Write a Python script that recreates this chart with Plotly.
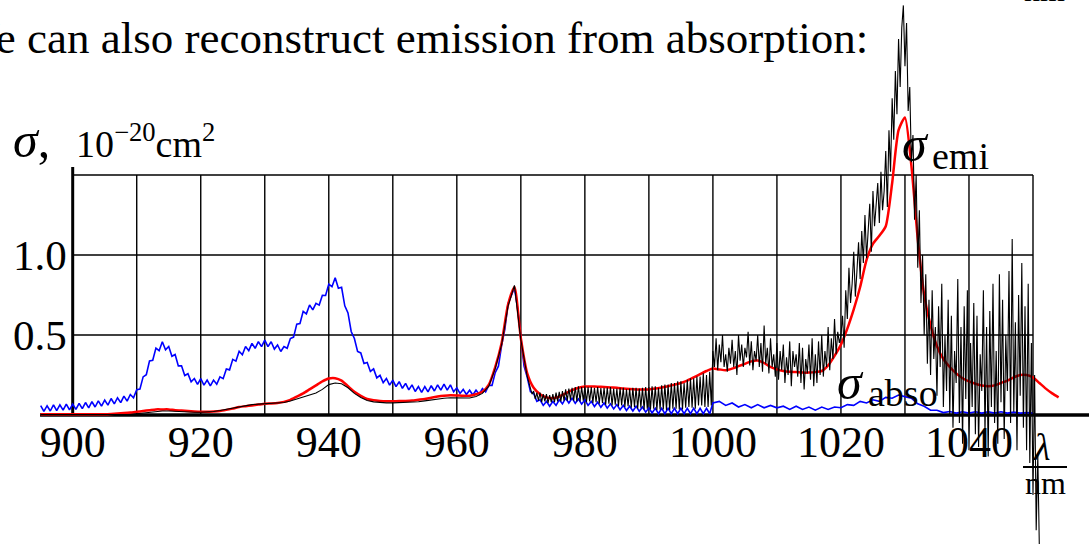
import numpy as np
import plotly.graph_objects as go

# ---------------- data ----------------
# absorption cross-section (blue), part A: 895.0 .. 1000.0 nm, step 0.5 nm
ABS_A_START, ABS_A_STEP = 895.0, 0.5
sigma_abs_a = [
    0.058, 0.022, 0.058, 0.025, 0.063, 0.027, 0.063, 0.030, 0.068, 0.032,
    0.068, 0.035, 0.073, 0.040, 0.078, 0.045, 0.083, 0.050, 0.088, 0.055,
    0.093, 0.062, 0.103, 0.070, 0.108, 0.077, 0.118, 0.087, 0.128, 0.107,
    0.158, 0.162, 0.238, 0.252, 0.338, 0.342, 0.418, 0.402, 0.458, 0.407,
    0.428, 0.367, 0.378, 0.307, 0.308, 0.247, 0.258, 0.207, 0.228, 0.192,
    0.228, 0.187, 0.218, 0.182, 0.218, 0.192, 0.238, 0.227, 0.288, 0.282,
    0.348, 0.337, 0.398, 0.377, 0.428, 0.402, 0.448, 0.417, 0.458, 0.427,
    0.468, 0.427, 0.458, 0.412, 0.438, 0.397, 0.428, 0.417, 0.478, 0.487,
    0.568, 0.572, 0.648, 0.632, 0.688, 0.657, 0.698, 0.687, 0.748, 0.747,
    0.818, 0.802, 0.858, 0.792, 0.798, 0.682, 0.638, 0.522, 0.478, 0.397,
    0.388, 0.322, 0.328, 0.272, 0.288, 0.232, 0.248, 0.202, 0.228, 0.187,
    0.218, 0.177, 0.208, 0.167, 0.198, 0.157, 0.188, 0.147, 0.178, 0.142,
    0.178, 0.145, 0.183, 0.150, 0.188, 0.155, 0.193, 0.155, 0.188, 0.145,
    0.170, 0.135, 0.160, 0.128, 0.155, 0.125, 0.155, 0.130, 0.165, 0.145,
    0.185, 0.185, 0.265, 0.305, 0.435, 0.535, 0.695, 0.745, 0.795, 0.665,
    0.465, 0.305, 0.235, 0.145, 0.135, 0.085, 0.095, 0.060, 0.085, 0.055,
    0.085, 0.060, 0.095, 0.070, 0.105, 0.075, 0.105, 0.073, 0.100, 0.068,
    0.095, 0.060, 0.085, 0.053, 0.080, 0.048, 0.075, 0.043, 0.070, 0.038,
    0.065, 0.033, 0.060, 0.028, 0.055, 0.025, 0.055, 0.023, 0.050, 0.018,
    0.045, 0.013, 0.042, 0.008, 0.042, 0.008, 0.042, 0.008, 0.042, 0.008,
    0.042, 0.008, 0.042, 0.008, 0.042, 0.008, 0.042, 0.008, 0.042, 0.008,
    0.075,
]
# absorption part B: 1001 .. 1050 nm, step 1 nm
ABS_B_START, ABS_B_STEP = 1001.0, 1.0
sigma_abs_b = [
    0.085, 0.06, 0.075, 0.05, 0.065, 0.045, 0.065, 0.045, 0.06, 0.045,
    0.055, 0.035, 0.055, 0.035, 0.05, 0.03, 0.05, 0.035, 0.05, 0.045,
    0.065, 0.06, 0.085, 0.075, 0.095, 0.085, 0.11, 0.105, 0.125, 0.115,
    0.105, 0.07, 0.055, 0.03, 0.03, 0.015, 0.022, 0.012, 0.02, 0.012,
    0.02, 0.012, 0.02, 0.012, 0.02, 0.012, 0.018, 0.012, 0.015, 0.012,
]

# reconstructed emission (red): 895 .. 1054 nm, step 1 nm
EMI_START, EMI_STEP = 895.0, 1.0
sigma_emi_rec = [
    0.005, 0.005, 0.005, 0.005, 0.005, 0.005, 0.005, 0.005, 0.005, 0.005,
    0.005, 0.007, 0.01, 0.012, 0.015, 0.02, 0.025, 0.03, 0.035, 0.035,
    0.035, 0.03, 0.028, 0.025, 0.022, 0.02, 0.02, 0.022, 0.025, 0.032,
    0.04, 0.05, 0.055, 0.06, 0.065, 0.07, 0.072, 0.075, 0.082, 0.095,
    0.115, 0.135, 0.16, 0.185, 0.21, 0.228, 0.23, 0.215, 0.18, 0.145,
    0.12, 0.1, 0.092, 0.088, 0.086, 0.086, 0.087, 0.088, 0.09, 0.095,
    0.1, 0.108, 0.115, 0.12, 0.123, 0.122, 0.12, 0.12, 0.13, 0.145,
    0.19, 0.3, 0.45, 0.69, 0.8, 0.48, 0.26, 0.17, 0.13, 0.11,
    0.105, 0.115, 0.135, 0.155, 0.17, 0.178, 0.178, 0.177, 0.175, 0.172,
    0.17, 0.165, 0.162, 0.16, 0.16, 0.16, 0.165, 0.172, 0.18, 0.19,
    0.2, 0.215, 0.235, 0.255, 0.275, 0.29, 0.285, 0.28, 0.29, 0.305,
    0.32, 0.335, 0.34, 0.325, 0.3, 0.285, 0.275, 0.27, 0.268, 0.265,
    0.265, 0.268, 0.275, 0.31, 0.37, 0.44, 0.54, 0.66, 0.8, 0.97,
    1.07, 1.12, 1.18, 1.45, 1.78, 1.86, 1.56, 1.1, 0.75, 0.56,
    0.43, 0.35, 0.3, 0.26, 0.23, 0.21, 0.195, 0.185, 0.18, 0.185,
    0.2, 0.215, 0.235, 0.25, 0.25, 0.235, 0.2, 0.165, 0.135, 0.11,
]

# measured emission (black), four pieces
MEAS_A_START, MEAS_A_STEP = 895.0, 1.0
sigma_emi_meas_a = [
    0.003, 0.003, 0.003, 0.003, 0.003, 0.003, 0.003, 0.003, 0.003, 0.003,
    0.003, 0.003, 0.003, 0.003, 0.003, 0.008, 0.012, 0.018, 0.022, 0.025,
    0.025, 0.022, 0.02, 0.018, 0.017, 0.017, 0.018, 0.022, 0.028, 0.036,
    0.045, 0.053, 0.06, 0.065, 0.068, 0.07, 0.07, 0.072, 0.078, 0.088,
    0.1, 0.112, 0.125, 0.138, 0.16, 0.19, 0.2, 0.195, 0.17, 0.135,
    0.11, 0.09, 0.082, 0.078, 0.076, 0.076, 0.077, 0.078, 0.08, 0.083,
    0.088, 0.095, 0.1, 0.105, 0.108, 0.108, 0.106, 0.106, 0.115, 0.135,
    0.18, 0.29, 0.44, 0.68, 0.81, 0.47, 0.24,
]
MEAS_B_START, MEAS_B_STEP = 971.5, 0.25
sigma_emi_meas_b = [
    0.17, 0.13,
    0.15, 0.1, 0.14, 0.09, 0.14, 0.08, 0.13, 0.085,
    0.13, 0.075, 0.125, 0.08, 0.13, 0.08, 0.14, 0.085,
    0.145, 0.085, 0.15, 0.09, 0.16, 0.09, 0.165, 0.095,
    0.17, 0.09, 0.175, 0.085, 0.18, 0.085, 0.175, 0.09,
    0.18, 0.08, 0.175, 0.085, 0.175, 0.075, 0.17, 0.08,
    0.175, 0.07, 0.168, 0.075, 0.17, 0.065, 0.172, 0.07,
    0.175, 0.06, 0.165, 0.065, 0.165, 0.055, 0.17, 0.06,
    0.17, 0.05, 0.16, 0.055, 0.165, 0.045, 0.17, 0.05,
    0.17, 0.04, 0.165, 0.045, 0.17, 0.035, 0.175, 0.04,
    0.175, 0.035, 0.18, 0.04, 0.18, 0.03, 0.17, 0.035,
    0.185, 0.035, 0.19, 0.03, 0.19, 0.03, 0.2, 0.04,
    0.2, 0.04, 0.21, 0.035, 0.21, 0.035, 0.2, 0.045,
    0.22, 0.05, 0.23, 0.045, 0.23, 0.04, 0.24, 0.06,
    0.24, 0.06, 0.26, 0.05, 0.25, 0.05, 0.27, 0.06,
]
MEAS_C_START, MEAS_C_STEP = 1000.0, 0.25
sigma_emi_meas_c = [
    0.4, 0.3, 0.48, 0.28, 0.44, 0.33, 0.5, 0.3,
    0.38, 0.27, 0.42, 0.32, 0.47, 0.3, 0.4, 0.25,
    0.5, 0.34, 0.44, 0.3, 0.42, 0.36, 0.52, 0.31,
    0.46, 0.28, 0.4, 0.34, 0.5, 0.3, 0.45, 0.27,
    0.56, 0.32, 0.42, 0.26, 0.48, 0.3, 0.38, 0.24,
    0.45, 0.22, 0.4, 0.28, 0.44, 0.2, 0.36, 0.25,
    0.46, 0.18, 0.4, 0.3, 0.38, 0.24, 0.45, 0.2,
    0.42, 0.16, 0.35, 0.26, 0.44, 0.22, 0.48, 0.18,
    0.38, 0.2, 0.46, 0.25, 0.5, 0.24, 0.4, 0.3,
    0.55, 0.28, 0.48, 0.35, 0.6, 0.38, 0.52, 0.45,
]
MEAS_D_START, MEAS_D_STEP = 1020.0, 0.25
sigma_emi_meas_d = [
    0.5, 0.62, 0.42, 0.78, 0.6, 0.92, 0.7, 0.82,
    1.02, 0.74, 0.9, 1.08, 0.85, 1.15, 0.95, 1.25,
    0.98, 1.12, 1.32, 1.02, 1.4, 1.18, 1.3, 1.45,
    1.2, 1.52, 1.28, 1.4, 1.65, 1.3, 1.78, 1.52,
    1.98, 1.72, 2.15, 1.88, 2.35, 2.05, 2.42, 2.56,
    2.18, 2.45, 1.9, 2.05, 1.58, 1.75, 1.22, 1.5,
    0.92, 1.28, 0.7, 1.0, 0.5, 0.88, 0.32, 0.72,
    0.25, 0.78, 0.35, 0.55, 0.12, 0.68, 0.3, 0.82,
    0.05, 0.5, 0.15, 0.72, 0.0, 0.62, -0.08, 0.4,
    0.2, 0.85, -0.05, 0.55, -0.18, 0.68, 0.1, 0.78,
    -0.22, 0.45, 0.05, 0.7, -0.12, 0.62, -0.2, 0.38,
    0.15, 0.78, -0.12, 0.55, -0.26, 0.65, 0.05, 0.82,
    -0.05, 0.4, -0.18, 0.88, 0.08, 0.72, -0.15, 0.5,
    0.15, 0.9, -0.05, 1.1, 0.02, 0.58, -0.22, 0.75,
    0.12, 0.95, -0.08, 0.68, -0.22, 0.82, -0.3, 0.45,
    -0.5, 0.25, -0.72, -0.25, -0.85,
]

x_tick_vals = [900, 920, 940, 960, 980, 1000, 1020, 1040]
x_tick_text = ["900", "920", "940", "960", "980", "1000", "1020", "1040"]
y_tick_vals = [0.5, 1.0]
y_tick_text = ["0.5", "1.0"]
grid_x = [910, 920, 930, 940, 950, 960, 970, 980, 990, 1000, 1010, 1020, 1030, 1040, 1050]
grid_y = [0.5, 1.0, 1.5]

# ---------------- figure ----------------
W, H = 1089, 544
SERIF = "Liberation Serif"


def wl(start, step, vals):
    return start + step * np.arange(len(vals))


abs_x = np.concatenate([wl(ABS_A_START, ABS_A_STEP, sigma_abs_a),
                        wl(ABS_B_START, ABS_B_STEP, sigma_abs_b)])
abs_y = np.array(sigma_abs_a + sigma_abs_b)
rec_x = wl(EMI_START, EMI_STEP, sigma_emi_rec)
meas_x = np.concatenate([wl(MEAS_A_START, MEAS_A_STEP, sigma_emi_meas_a),
                         wl(MEAS_B_START, MEAS_B_STEP, sigma_emi_meas_b),
                         wl(MEAS_C_START, MEAS_C_STEP, sigma_emi_meas_c),
                         wl(MEAS_D_START, MEAS_D_STEP, sigma_emi_meas_d)])
meas_y = np.array(sigma_emi_meas_a + sigma_emi_meas_b + sigma_emi_meas_c + sigma_emi_meas_d)

# pixel calibration of the reference
PX_900, PX_PER_NM = 72.7, 6.402
PY_0, PY_PER_UNIT = 415.0, 160.0
x_range = [900 - PX_900 / PX_PER_NM, 900 + (W - PX_900) / PX_PER_NM]
y_range = [-(H - PY_0) / PY_PER_UNIT, PY_0 / PY_PER_UNIT]

fig = go.Figure()
fig.add_trace(go.Scatter(x=abs_x, y=abs_y, mode="lines",
                         line=dict(color="#0000ff", width=1.6), hoverinfo="skip"))
fig.add_trace(go.Scatter(x=rec_x, y=sigma_emi_rec, mode="lines",
                         line=dict(color="#ff0000", width=2.5, shape="spline", smoothing=0.6),
                         hoverinfo="skip"))
fig.add_trace(go.Scatter(x=meas_x, y=meas_y, mode="lines",
                         line=dict(color="#000000", width=1.1), hoverinfo="skip"))

shapes = []
for gx in grid_x:
    shapes.append(dict(type="line", xref="x", yref="y", x0=gx, x1=gx, y0=0, y1=1.5,
                       line=dict(color="black", width=1.4), layer="below"))
for gy in grid_y:
    shapes.append(dict(type="line", xref="x", yref="y", x0=900, x1=1050, y0=gy, y1=gy,
                       line=dict(color="black", width=1.4), layer="below"))
# axes
shapes.append(dict(type="line", xref="x", yref="y", x0=894.9, x1=x_range[1], y0=0, y1=0,
                   line=dict(color="black", width=3.5), layer="below"))
shapes.append(dict(type="line", xref="x", yref="y", x0=900, x1=900, y0=0, y1=1.55,
                   line=dict(color="black", width=3), layer="below"))
# fraction bar of lambda/nm
shapes.append(dict(type="line", xref="paper", yref="paper",
                   x0=1023 / W, x1=1067 / W, y0=1 - 467 / H, y1=1 - 467 / H,
                   line=dict(color="black", width=2)))


def px(x):
    return x / W


def py(y):
    return 1 - y / H


def ann(text, x, y, size, xanchor="left", yanchor="bottom"):
    return dict(text=text, x=px(x), y=py(y), xref="paper", yref="paper",
                xanchor=xanchor, yanchor=yanchor, showarrow=False,
                font=dict(family=SERIF, size=size, color="black"))


annotations = [
    ann("We can also reconstruct emission from absorption:", 870, 38, 45,
        xanchor="right", yanchor="middle"),
    ann("<i>σ</i>,", 11, 170, 50),
    ann("10<sup>−20</sup>cm<sup>2</sup>", 74, 167, 38),
    ann("<i>σ</i>", 900, 174, 50),
    ann("emi", 930, 179, 38),
    ann("<i>σ</i>", 835, 412, 50),
    ann("abso", 866, 416, 38),
    ann("<i>λ</i>", 1041, 470, 38, xanchor="center"),
    ann("nm", 1045, 503, 32, xanchor="center"),
    ann("nm", 1044, 10, 32, xanchor="center"),
]

fig.update_layout(
    width=W, height=H,
    margin=dict(l=0, r=0, t=0, b=0),
    paper_bgcolor="white", plot_bgcolor="white",
    showlegend=False,
    xaxis=dict(range=x_range, showgrid=False, zeroline=False, showline=False,
               ticks="", tickvals=x_tick_vals, ticktext=x_tick_text,
               tickfont=dict(family=SERIF, size=44, color="black"),
               anchor="free", position=(H - PY_0) / H, ticklabelstandoff=-3),
    yaxis=dict(range=y_range, showgrid=False, zeroline=False, showline=False,
               ticks="", tickvals=y_tick_vals, ticktext=y_tick_text,
               tickfont=dict(family=SERIF, size=43, color="black"),
               anchor="free", position=PX_900 / W, ticklabelstandoff=6),
    shapes=shapes,
    annotations=annotations,
)

fig.write_html("out.html")
